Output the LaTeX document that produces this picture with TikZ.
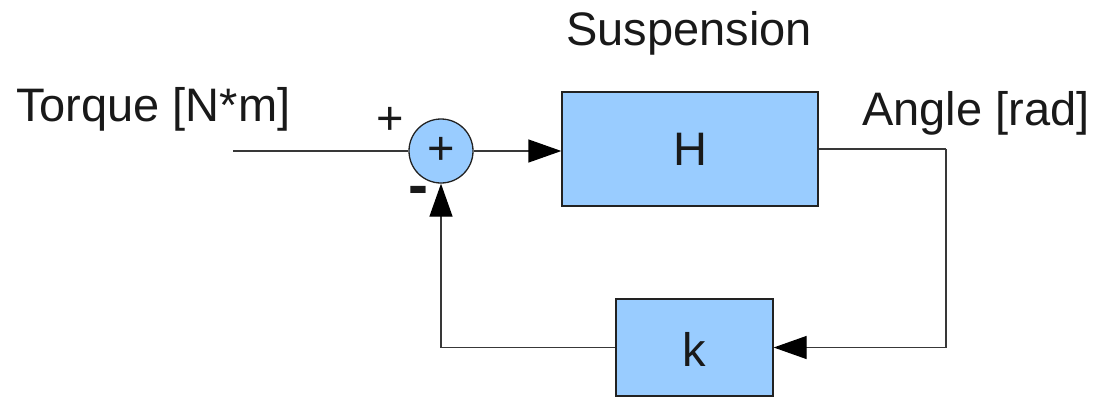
\documentclass[tikz,border=0pt]{standalone}
\usepackage{fontspec}
\setmainfont{Liberation Sans}
\usetikzlibrary{arrows.meta}
\definecolor{boxblue}{HTML}{99CCFF}
\definecolor{edge}{HTML}{222222}
\begin{document}
\begin{tikzpicture}[x=1pt,y=-1pt,
  every node/.style={font=\fontsize{47}{56}\selectfont, text=black!90},
  lbl/.style={inner sep=0pt},
  block/.style={draw=edge, line width=1.3pt, fill=boxblue, inner sep=0pt},
  wire/.style={draw=edge!90, line width=1.3pt},
  arr/.style={wire, -{Triangle[length=33pt,width=23pt,color=black,fill=black]}}]
\useasboundingbox (0,0) rectangle (1098,397);
% blocks
\node[block, circle, minimum size=64pt] (sum) at (441,151) {};
\node[lbl] (plus) at (441,151) {+};
\node[block, rectangle, minimum width=256pt, minimum height=114pt] (H) at (690,149) {};
\node[lbl] (Ht) at (690,149) {H};
\node[block, rectangle, minimum width=157pt, minimum height=97pt] (k) at (694.5,347.5) {};
\node[lbl] (kt) at (694.5,349) {k};
% labels
\node[lbl, anchor=base west] (torque) at (16,121) {Torque [N*m]};
\node[lbl, anchor=base] (susp) at (689,45) {Suspension};
\node[lbl, anchor=base west] (angle) at (862,125) {Angle [rad]};
\node[lbl] (pl) at (390,121) {+};
\node[lbl, font=\fontsize{60}{70}\selectfont\bfseries] (mi) at (418,196) {-};
% connectors
\coordinate (in) at (233,151);
\coordinate (c1) at (946,149);
\draw[wire] (in) -- (sum.west);
\draw[arr] (sum.east) -- (sum.east -| H.west);
\draw[wire] (H.east) -- (c1);
\draw[arr] (c1) |- (k.east);
\draw[arr] (k.west) -| (sum.south);
\end{tikzpicture}
\end{document}
